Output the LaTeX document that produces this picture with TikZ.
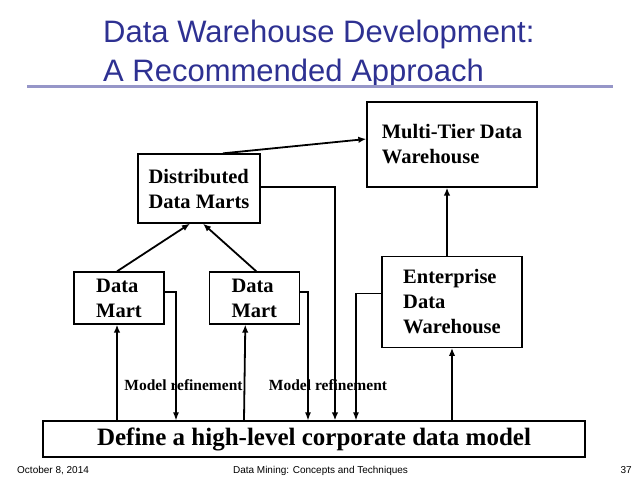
\documentclass[tikz,border=0pt]{standalone}
\usepackage{fontspec}
\setmainfont{Liberation Serif}
\newfontfamily\slidefont{Liberation Sans}
\usetikzlibrary{arrows.meta,positioning,calc}
\definecolor{dwtitle}{RGB}{46,49,146}
\definecolor{dwrule}{RGB}{150,150,200}

\begin{document}
\begin{tikzpicture}[
			x=1pt, y=-1pt,
			box/.style={rectangle, draw, line width=1.3pt, align=left, inner sep=0pt, font=\fontsize{20.5}{25}\selectfont\bfseries},
			arrow/.style={-{Latex[length=8pt,width=6.5pt]}, line width=1.8pt},
			refine/.style={-{Latex[length=8pt,width=6pt]}, line width=1.2pt},
			lbl/.style={inner sep=0pt, font=\fontsize{15.5}{18}\selectfont\bfseries},
			title/.style={inner sep=0pt, anchor=base west, text=dwtitle, font=\slidefont\fontsize{31}{39}\selectfont},
			footer/.style={inner sep=0pt, font=\slidefont\fontsize{10}{12}\selectfont}
		]
			\useasboundingbox (0,0) rectangle (638,479);
			% slide title
			\node[title] (title1) at (103,42) {Data Warehouse Development:};
			\node[title] (title2) at (103,81) {A Recommended Approach};
			\draw[dwrule, line width=3pt] (27,86) -- (613,86);
			
			\node[box, minimum width=542pt, minimum height=36pt, align=center, font=\fontsize{25}{30}\selectfont\bfseries] (base) at (314,439) {Define a high-level corporate data model};
			\node[box, minimum width=90pt, minimum height=52pt] (dm1) at (119,298) {Data\\Mart};
			\node[box, minimum width=90pt, minimum height=52pt, right=44pt of dm1] (dm2) {Data\\Mart};
			\node[box, minimum width=122pt, minimum height=69pt] (ddm) at (199,188.5) {Distributed\\Data Marts};
			\node[box, minimum width=170pt, minimum height=85pt] (mtdw) at (452,144.5) {Multi-Tier Data\\Warehouse};
			\node[box, minimum width=140pt, minimum height=91pt, below=68pt of mtdw] (edw) {Enterprise\\Data\\Warehouse};
			
			\node[lbl] (refine1) at (183.5,385) {Model refinement};
			\node[lbl] (refine2) at (328,385) {Model refinement};
			
			\draw[arrow] ([xshift=24pt]ddm.north) -- ([yshift=5.5pt]mtdw.west);
			\draw[arrow] ([yshift=1.5pt]ddm.east) -| ([xshift=21pt]base.north);
			\draw[arrow] ([xshift=-2pt]dm1.north) -- ([xshift=-9pt]ddm.south);
			\draw[arrow] ([xshift=2pt]dm2.north) -- ([xshift=4pt]ddm.south);
			\draw[refine] ([yshift=6pt]dm1.east) -| ([xshift=-138pt]base.north);
			\draw[refine] ([yshift=6pt]dm2.east) -| ([xshift=-6pt]base.north);
			\draw[refine] ([yshift=8.5pt]edw.west) -| ([xshift=42pt]base.north);
			\draw[arrow] ([xshift=-197pt]base.north) -- ([xshift=-2pt]dm1.south);
			\draw[arrow] ([xshift=-70pt]base.north) -- ([xshift=-9pt]dm2.south);
			\draw[arrow] ([xshift=138pt]base.north) -- (edw.south);
			\draw[arrow] ([xshift=-5pt]edw.north) -- ([xshift=-5pt]mtdw.south);
			
			% footer
			\node[footer, anchor=base west] (date) at (17,473) {October 8, 2014};
			\node[footer, anchor=base] (course) at (320.5,473) {Data Mining: Concepts and Techniques};
			\node[footer, anchor=base east] (page) at (632,473) {37};
		\end{tikzpicture}
\end{document}
